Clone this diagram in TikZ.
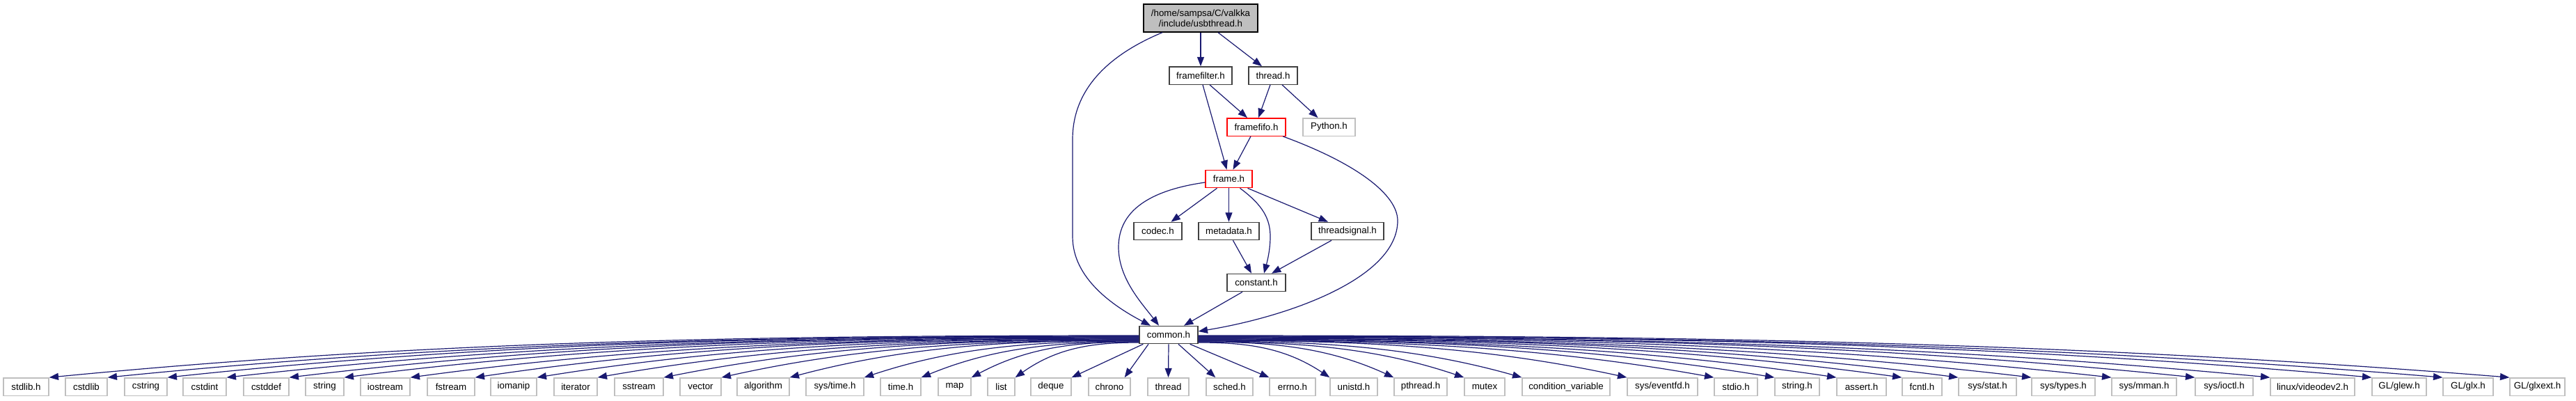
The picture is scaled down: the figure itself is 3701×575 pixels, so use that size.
\documentclass[tikz,border=0pt]{standalone}
\usepackage{fontspec}
\setmainfont{Liberation Sans}
\usetikzlibrary{arrows.meta,calc}
\definecolor{edgec}{HTML}{191970}
\definecolor{gdark}{HTML}{404040}
\definecolor{glight}{HTML}{BFBFBF}
\tikzset{
  nbase/.style={draw, line width=1pt, inner sep=0pt, minimum height=19pt, font=\fontsize{10}{11.25}\selectfont, text=black},
  locn/.style={nbase, draw=gdark},
  redn/.style={nbase, draw=red},
  sysn/.style={nbase, draw=glight},
  rootn/.style={nbase, draw=black, fill=glight, align=center, minimum height=30pt},
  conn/.style={draw=edgec, line width=0.9pt, -{Triangle[length=10pt,width=7.5pt]}},
}
% style, name, x1, x2, ycenter, text
\newcommand\nd[6]{\node[#1, minimum width={(#4-#3)*0.75pt}] (#2) at ({(#3+#4)/2},#5) {#6};}
\newcommand\fan[2]{\draw[conn] let \p1=(#1), \p2=(#2) in (\p1) .. controls ({\x1+0.35*(\x2-\x1)},\y1) and ({\x2+0.35*(\x1-\x2)},{\y1+0.12*(\y2-\y1)}) .. (\p2);}
\begin{document}
\begin{tikzpicture}[x=0.75pt,y=-0.75pt]
\useasboundingbox (0,0) rectangle (3701,575);
% upper nodes
\nd{rootn}{usb}{1643}{1807}{26}{/home/sampsa/C/valkka\\/include/usbthread.h}
\nd{locn}{ff}{1680}{1770}{108.5}{framefilter.h}
\nd{locn}{th}{1794}{1864}{108.5}{thread.h}
\nd{redn}{fifo}{1763}{1847}{182.5}{framefifo.h}
\nd{sysn}{py}{1872}{1947}{182.5}{Python.h}
\nd{redn}{frame}{1732}{1799}{257}{frame.h}
\nd{locn}{codec}{1629}{1698}{332}{codec.h}
\nd{locn}{meta}{1722}{1809}{332}{metadata.h}
\nd{locn}{ts}{1884}{1988}{332}{threadsignal.h}
\nd{locn}{const}{1763}{1847}{406}{constant.h}
\nd{locn}{common}{1637}{1721}{481}{common.h}
% bottom row
\nd{sysn}{b1}{5}{70}{555.5}{stdlib.h}
\nd{sysn}{b2}{94}{154}{555.5}{cstdlib}
\nd{sysn}{b3}{179}{240}{555.5}{cstring}
\nd{sysn}{b4}{263}{325}{555.5}{cstdint}
\nd{sysn}{b5}{350}{415}{555.5}{cstddef}
\nd{sysn}{b6}{439}{494}{555.5}{string}
\nd{sysn}{b7}{518}{589}{555.5}{iostream}
\nd{sysn}{b8}{614}{682}{555.5}{fstream}
\nd{sysn}{b9}{705}{771}{555.5}{iomanip}
\nd{sysn}{b10}{796}{858}{555.5}{iterator}
\nd{sysn}{b11}{883}{953}{555.5}{sstream}
\nd{sysn}{b12}{977}{1036}{555.5}{vector}
\nd{sysn}{b13}{1059}{1134}{555.5}{algorithm}
\nd{sysn}{b14}{1158}{1241}{555.5}{sys/time.h}
\nd{sysn}{b15}{1265}{1323}{555.5}{time.h}
\nd{sysn}{b16}{1348}{1395}{555.5}{map}
\nd{sysn}{b17}{1419}{1458}{555.5}{list}
\nd{sysn}{b18}{1481}{1539}{555.5}{deque}
\nd{sysn}{b19}{1564}{1624}{555.5}{chrono}
\nd{sysn}{b20}{1649}{1708}{555.5}{thread}
\nd{sysn}{b21}{1733}{1800}{555.5}{sched.h}
\nd{sysn}{b22}{1824}{1890}{555.5}{errno.h}
\nd{sysn}{b23}{1911}{1979}{555.5}{unistd.h}
\nd{sysn}{b24}{2003}{2079}{555.5}{pthread.h}
\nd{sysn}{b25}{2104}{2162}{555.5}{mutex}
\nd{sysn}{b26}{2187}{2313}{555.5}{condition\_variable}
\nd{sysn}{b27}{2338}{2439}{555.5}{sys/eventfd.h}
\nd{sysn}{b28}{2463}{2525}{555.5}{stdio.h}
\nd{sysn}{b29}{2550}{2614}{555.5}{string.h}
\nd{sysn}{b30}{2639}{2710}{555.5}{assert.h}
\nd{sysn}{b31}{2733}{2790}{555.5}{fcntl.h}
\nd{sysn}{b32}{2814}{2897}{555.5}{sys/stat.h}
\nd{sysn}{b33}{2919}{3010}{555.5}{sys/types.h}
\nd{sysn}{b34}{3034}{3127}{555.5}{sys/mman.h}
\nd{sysn}{b35}{3154}{3237}{555.5}{sys/ioctl.h}
\nd{sysn}{b36}{3262}{3383}{555.5}{linux/videodev2.h}
\nd{sysn}{b37}{3408}{3486}{555.5}{GL/glew.h}
\nd{sysn}{b38}{3510}{3582}{555.5}{GL/glx.h}
\nd{sysn}{b39}{3606}{3685}{555.5}{GL/glxext.h}
% upper edges
\draw[conn] (usb.south) -- (ff.north);
\draw[conn] ($(usb.south)+(25,0)$) -- ($(th.north)+(-16,0)$);
\draw[conn] ($(usb.south)+(-55,0)$) .. controls (1590,80) and (1541,130) .. (1541,200) -- (1541,340) .. controls (1541,400) and (1600,440) .. ($(common.north)+(-26,0)$);
\draw[conn] ($(ff.south)+(13,0)$) -- ($(fifo.north)+(-13,0)$);
\draw[conn] ($(ff.south)+(3,0)$) -- ($(frame.north)+(-3,0)$);
\draw[conn] ($(th.south)+(-4,0)$) -- ($(fifo.north)+(3,0)$);
\draw[conn] ($(th.south)+(13,0)$) -- ($(py.north)+(-16,0)$);
\draw[conn] ($(fifo.south)+(-8,0)$) -- ($(frame.north)+(6,0)$);
\draw[conn] ($(fifo.south)+(38,0)$) .. controls (1950,235) and (2008,280) .. (2008,317) .. controls (2008,400) and (1850,455) .. ($(common.east)+(0,-5)$);
\draw[conn] ($(frame.south)+(-17,0)$) -- ($(codec.north)+(19,0)$);
\draw[conn] (frame.south) -- (meta.north);
\draw[conn] ($(frame.south)+(16,0)$) .. controls (1815,295) and (1825,315) .. (1825,340) .. controls (1825,360) and (1820,378) .. ($(const.north)+(11,0)$);
\draw[conn] ($(frame.south)+(27,0)$) -- ($(ts.north)+(-28,0)$);
\draw[conn] ($(meta.south)+(6,0)$) -- ($(const.north)+(-7,0)$);
\draw[conn] ($(ts.south)+(-23,0)$) -- ($(const.north)+(22,0)$);
\draw[conn] ($(const.south)+(-20,0)$) -- ($(common.north)+(22,0)$);
\draw[conn] ($(frame.west)+(0,5)$) .. controls (1640,275) and (1607,310) .. (1607,355) .. controls (1607,400) and (1640,435) .. ($(common.north)+(-14,0)$);
% fan-out left
\fan{$(common.west)+(0,1)$}{b1.north east}
\fan{$(common.west)+(0,2)$}{b2.north east}
\fan{$(common.west)+(0,2)$}{b3.north east}
\fan{$(common.west)+(0,3)$}{b4.north east}
\fan{$(common.west)+(0,3)$}{b5.north east}
\fan{$(common.west)+(0,4)$}{b6.north east}
\fan{$(common.west)+(0,5)$}{b7.north east}
\fan{$(common.west)+(0,5)$}{b8.north east}
\fan{$(common.west)+(0,6)$}{b9.north east}
\fan{$(common.west)+(0,7)$}{b10.north east}
\fan{$(common.west)+(0,7)$}{b11.north east}
\fan{$(common.west)+(0,8)$}{b12.north east}
\fan{$(common.west)+(0,8)$}{b13.north east}
\fan{$(common.west)+(0,9)$}{b14.north east}
\fan{$(common.west)+(0,10)$}{b15.north east}
\fan{$(common.west)+(0,10)$}{b16.north east}
\fan{$(common.west)+(0,11)$}{b17.north east}
\draw[conn] ($(common.south west)+(6,0)$) -- (b18.north east);
\draw[conn] ($(common.south)+(-29,0)$) -- ($(b19.north east)+(-9,0)$);
\draw[conn] (common.south) -- (b20.north);
\draw[conn] ($(common.south)+(14,0)$) -- ($(b21.north west)+(14,0)$);
\draw[conn] ($(common.south east)+(-12,0)$) -- (b22.north west);
% fan-out right
\fan{$(common.east)+(0,11)$}{b23.north west}
\fan{$(common.east)+(0,10)$}{b24.north west}
\fan{$(common.east)+(0,10)$}{b25.north west}
\fan{$(common.east)+(0,9)$}{b26.north west}
\fan{$(common.east)+(0,8)$}{b27.north west}
\fan{$(common.east)+(0,8)$}{b28.north west}
\fan{$(common.east)+(0,7)$}{b29.north west}
\fan{$(common.east)+(0,7)$}{b30.north west}
\fan{$(common.east)+(0,6)$}{b31.north west}
\fan{$(common.east)+(0,5)$}{b32.north west}
\fan{$(common.east)+(0,5)$}{b33.north west}
\fan{$(common.east)+(0,4)$}{b34.north west}
\fan{$(common.east)+(0,3)$}{b35.north west}
\fan{$(common.east)+(0,3)$}{b36.north west}
\fan{$(common.east)+(0,2)$}{b37.north west}
\fan{$(common.east)+(0,2)$}{b38.north west}
\fan{$(common.east)+(0,1)$}{b39.north west}
\end{tikzpicture}
\end{document}
